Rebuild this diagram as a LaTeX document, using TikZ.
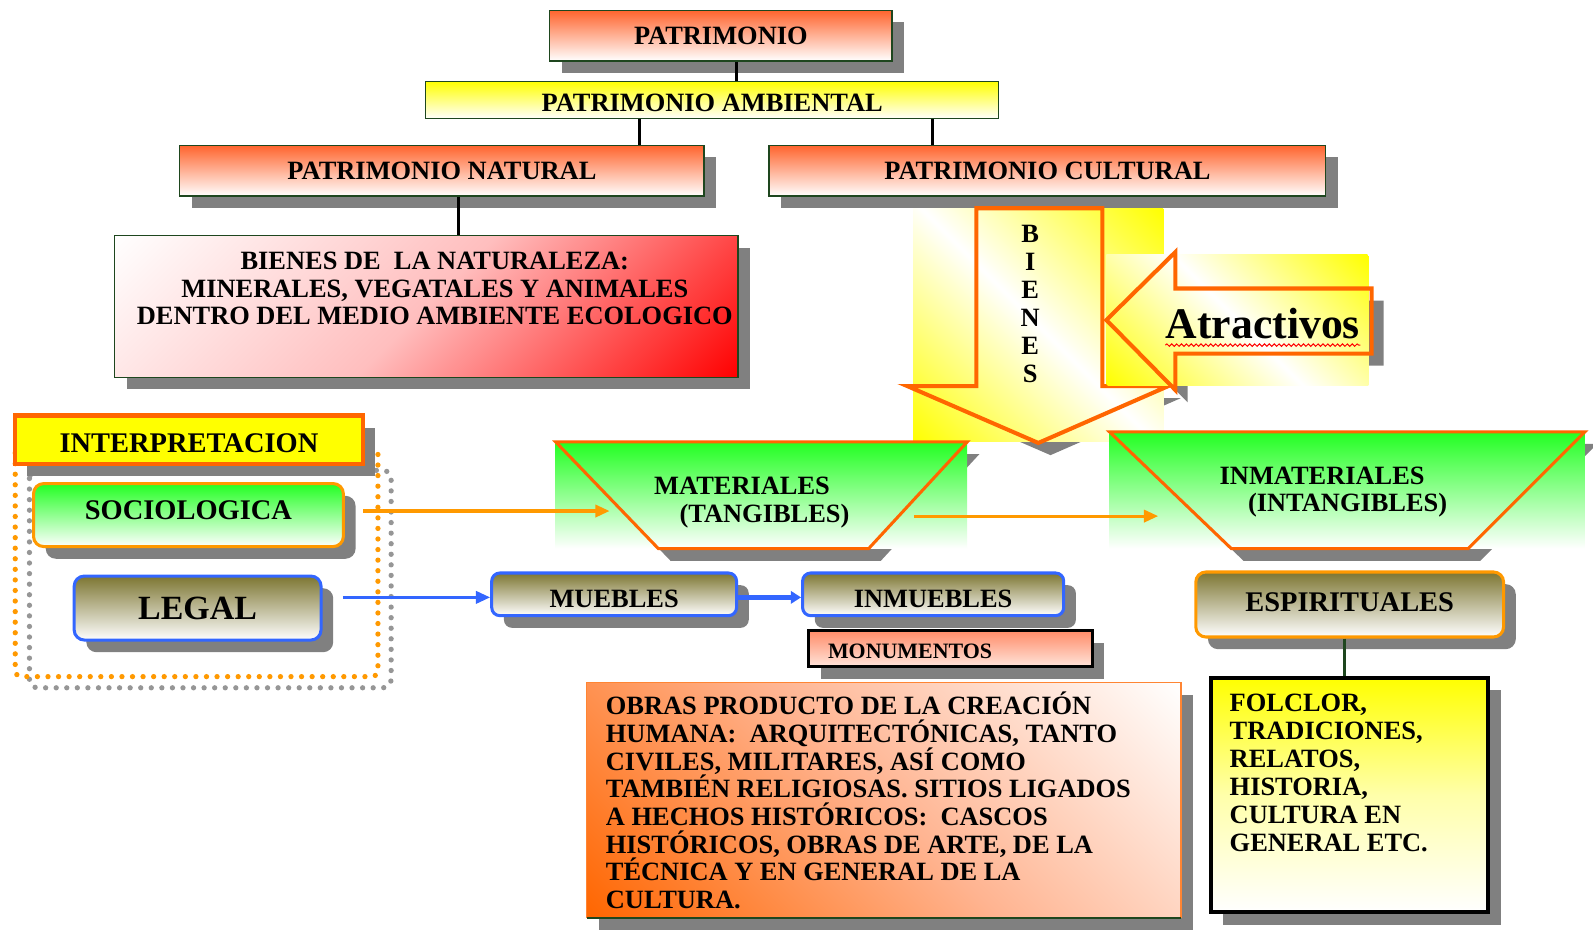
\documentclass[tikz,border=0pt]{standalone}
\usepackage{fontspec}
\setmainfont{Liberation Serif}
\usetikzlibrary{shadows,arrows.meta,decorations.pathmorphing,calc}
\definecolor{shg}{RGB}{128,128,128}
\definecolor{orr}{RGB}{255,100,45}
\definecolor{dkg}{RGB}{30,70,30}
\definecolor{ylw}{RGB}{255,255,0}
\definecolor{ylwL}{RGB}{255,255,170}
\definecolor{grn}{RGB}{34,255,34}
\definecolor{olv}{RGB}{125,118,50}
\definecolor{blu}{RGB}{51,102,255}
\definecolor{orA}{RGB}{255,153,0}
\definecolor{orB}{RGB}{255,102,0}
\definecolor{sal}{RGB}{255,140,105}
\definecolor{salL}{RGB}{255,228,218}
\definecolor{dotg}{RGB}{150,150,150}
\definecolor{pinkM}{RGB}{255,190,190}
\definecolor{orM}{RGB}{255,180,145}
\tikzset{
  shd/.style={drop shadow={shadow xshift=6pt,shadow yshift=-6pt,fill=shg,opacity=1}},
  tx/.style={font=\bfseries\fontsize{13}{13.6}\selectfont, text=black},
  txb/.style={font=\bfseries\fontsize{14}{15}\selectfont, text=black},
  titlebox/.style={tx, shd, draw=dkg, line width=0.6pt, top color=orr, bottom color=white, inner sep=0pt},
  rbox/.style={shd, rounded corners=5pt, line width=1.5pt, top color=olv, bottom color=white, inner sep=0pt},
  conn/.style={line width=1.5pt, black},
  oarr/.style={orA, line width=1.5pt, -{Triangle[length=7pt,width=6pt]}},
  barr/.style={blu, line width=1.5pt, -{Triangle[length=7pt,width=6pt]}},
  bigarrow/.style={draw=orB, line width=2pt, line join=miter},
  trap/.style={draw=orB, line width=1.5pt, line join=miter},
  gbg/.style={top color=grn, bottom color=white},
  dots/.style={line width=2.6pt, line cap=round, dash pattern=on 0pt off 5.2pt},
}
\begin{document}
\begin{tikzpicture}[x=0.5pt,y=-0.5pt]
\useasboundingbox[fill=white] (0,0) rectangle (1568,919);

% dotted frames
\draw[dots, dotg, rounded corners=4pt] (29,463) rectangle (385,677);
\draw[dots, orA, rounded corners=3pt] (15,440) rectangle (372,666);

% title hierarchy
\node[titlebox, minimum width=168.5pt, minimum height=25pt] (pat) at (709.5,35) {PATRIMONIO};
\node[tx, draw=dkg, line width=0.6pt, top color=ylw, bottom color=white, minimum width=282pt, minimum height=18.5pt, inner sep=0pt, text height=11.6pt] (amb) at (701,98.5) {PATRIMONIO AMBIENTAL};
\node[titlebox, minimum width=258pt, minimum height=25pt] (nat) at (435,168) {PATRIMONIO NATURAL};
\node[titlebox, minimum width=274pt, minimum height=25pt] (cul) at (1031,168) {PATRIMONIO CULTURAL};
\coordinate (c1) at (725,0);
\coordinate (c2) at (629,0);
\coordinate (c3) at (918,0);
\coordinate (c4) at (451,0);
\draw[conn] (pat.south -| c1) -- (amb.north -| c1);
\draw[conn] (amb.south -| c2) -- (nat.north -| c2);
\draw[conn] (amb.south -| c3) -- (cul.north -| c3);

% bienes de la naturaleza (diagonal white -> red)
\node[shd, fill=white, minimum width=306.5pt, minimum height=69.5pt, inner sep=0pt] (bn) at (419.5,301.5) {};
\begin{scope}
  \clip (bn.south west) rectangle (bn.north east);
  \shade[top color=white, bottom color=red, middle color=pinkM, transform canvas={rotate around={45:(bn.center)}}]
    ($(bn.center)+(-300,-266)$) rectangle ($(bn.center)+(300,266)$);
\end{scope}
\draw[dkg, line width=0.6pt] (bn.south west) rectangle (bn.north east);
\draw[conn] (nat.south -| c4) -- (bn.north -| c4);
\node[tx, align=center, inner sep=0pt] (bnt) at (428,284) {BIENES DE\ \ LA NATURALEZA:\\MINERALES, VEGATALES Y ANIMALES\\DENTRO DEL MEDIO AMBIENTE ECOLOGICO};

% interpretacion
\node[txb, shd, fill=ylw, draw=orB, line width=2pt, minimum width=171pt, minimum height=24pt, inner sep=0pt, text height=12.5pt] (int) at (186,433) {INTERPRETACION};
\node[rbox, draw=orA, top color=grn, bottom color=white, minimum width=152.5pt, minimum height=31pt, txb, text depth=4.5pt] (soc) at (185.5,507) {SOCIOLOGICA};
\node[rbox, draw=blu, minimum width=121.5pt, minimum height=31.5pt, font=\bfseries\fontsize{16.7}{18}\selectfont] (leg) at (194.5,598.5) {LEGAL};

% BIENES big arrow
\coordinate (bgA) at (1022,320);
\fill[shg, shift={(6pt,-6pt)}] (961,205) -- (1085,205) -- (1085,380) -- (1150,380) -- (1022,436) -- (893,380) -- (961,380) -- cycle;
\begin{scope}
  \clip (899,205) rectangle (1145,435);
  \shade[top color=ylw, bottom color=ylw, middle color=white, transform canvas={rotate around={-45:(bgA)}}]
    ($(bgA)+(-200,-168)$) rectangle ($(bgA)+(200,168)$);
\end{scope}
\draw[bigarrow] (961,205) -- (1085,205) -- (1085,380) -- (1150,380) -- (1022,436) -- (893,380) -- (961,380) -- cycle;
\node[align=center, inner sep=0pt, font=\bfseries\fontsize{13}{13.75}\selectfont] (bie) at (1014,299) {B\\I\\E\\N\\E\\S};

% Atractivos arrow
\coordinate (bgB) at (1218,315);
\fill[shg, shift={(6pt,-6pt)}] (1089,315) -- (1157,248) -- (1157,284) -- (1350,284) -- (1350,348) -- (1157,348) -- (1157,384) -- cycle;
\begin{scope}
  \clip (1089,251) rectangle (1347,379);
  \shade[top color=ylw, bottom color=ylw, middle color=white, transform canvas={rotate around={-45:(bgB)}}]
    ($(bgB)+(-200,-136)$) rectangle ($(bgB)+(200,136)$);
\end{scope}
\draw[bigarrow] (1089,315) -- (1157,248) -- (1157,284) -- (1350,284) -- (1350,348) -- (1157,348) -- (1157,384) -- cycle;
\node[inner sep=0pt, font=\bfseries\fontsize{21.5}{24}\selectfont] (atr) at (1243,318) {Atractivos};
\draw[red, line width=0.5pt, decorate, decoration={snake, amplitude=0.6pt, segment length=2.4pt}] ([yshift=-3.5pt]atr.base west) -- ([yshift=-3.5pt]atr.base east);

% trapezoids
\fill[shg, shift={(6pt,-6pt)}] (547,435) -- (952,435) -- (855,540) -- (648,540) -- cycle;
\path[gbg] (547,435) rectangle (952,540);
\draw[trap] (547,435) -- (952,435) -- (855,540) -- (648,540) -- cycle;
\node[tx, align=left, inner sep=0pt] (mat) at (740,494.5) {MATERIALES\\\hspace*{12.5pt}(TANGIBLES)};

\fill[shg, shift={(6pt,-6pt)}] (1092,425) -- (1560,425) -- (1445,540) -- (1212,540) -- cycle;
\path[gbg] (1092,425) rectangle (1560,540);
\draw[trap] (1092,425) -- (1560,425) -- (1445,540) -- (1212,540) -- cycle;
\node[tx, align=left, inner sep=0pt] (inm) at (1312.5,484.5) {INMATERIALES\\\hspace*{14pt}(INTANGIBLES)};

\coordinate (matL) at (600,503);
\coordinate (matR) at (900,508);
\coordinate (inmL) at (1140,508);
\draw[oarr] ($(soc.east |- matL)+(9pt,0)$) -- (matL);
\draw[oarr] (matR) -- (inmL);

% muebles / inmuebles
\node[rbox, draw=blu, rounded corners=4pt, minimum width=120.5pt, minimum height=21pt, tx, text height=13pt] (mue) at (604.5,585) {MUEBLES};
\node[rbox, draw=blu, rounded corners=4pt, minimum width=128.5pt, minimum height=21pt, tx, text height=13pt] (inmu) at (918.5,585) {INMUEBLES};
\draw[barr] ($(leg.east |- 0,588)+(10pt,0)$) -- (mue.west |- 0,588);
\draw[blu, line width=2.5pt, -{Triangle[length=5pt,width=6pt]}] (mue.east |- 0,588) -- (inmu.west |- 0,588);

% monumentos
\node[shd, draw=black, line width=1.5pt, top color=sal, bottom color=salL, minimum width=139.5pt, minimum height=17.5pt, inner xsep=9.5pt, inner ysep=0pt, text width=120.5pt, text height=10pt, align=left, font=\bfseries\fontsize{10.8}{12}\selectfont] (mon) at (935.5,638.5) {MONUMENTOS};

% obras (diagonal orange -> white)
\node[shd, fill=white, minimum width=292pt, minimum height=115.5pt, inner sep=0pt] (obr) at (870,787.5) {};
\begin{scope}
  \clip (obr.south west) rectangle (obr.north east);
  \shade[top color=white, bottom color=orB, middle color=orM, transform canvas={rotate around={-45:(obr.center)}}]
    ($(obr.center)+(-330,-288)$) rectangle ($(obr.center)+(330,288)$);
\end{scope}
\draw[orB!80, line width=0.6pt] (obr.south west) rectangle (obr.north east);
\draw[dkg, line width=1.2pt] (obr.south west) -- (obr.south east);
\node[tx, anchor=north west, align=left, inner sep=0pt] (obrt) at (596,681) {OBRAS PRODUCTO DE LA CREACIÓN\\HUMANA:\ \ ARQUITECTÓNICAS, TANTO\\CIVILES, MILITARES, ASÍ COMO\\TAMBIÉN RELIGIOSAS. SITIOS LIGADOS\\A HECHOS HISTÓRICOS:\ \ CASCOS\\HISTÓRICOS, OBRAS DE ARTE, DE LA\\TÉCNICA Y EN GENERAL DE LA\\CULTURA.};

% espirituales
\node[rbox, draw=orA, minimum width=151.5pt, minimum height=32pt, txb, text depth=2.5pt] (esp) at (1328.5,595) {ESPIRITUALES};
\node[shd, draw=black, line width=2pt, top color=ylw, bottom color=white, middle color=ylwL, minimum width=136.5pt, minimum height=115.5pt, inner sep=0pt] (fol) at (1328.5,782.5) {};
\coordinate (c5) at (1323,0);
\draw[dkg, line width=1.5pt] (esp.south -| c5) -- (fol.north -| c5);
\node[anchor=north west, align=left, inner sep=0pt, font=\bfseries\fontsize{13}{13.75}\selectfont] (folt) at (1210,683) {FOLCLOR,\\TRADICIONES,\\RELATOS,\\HISTORIA,\\CULTURA EN\\GENERAL ETC.};
\end{tikzpicture}
\end{document}
